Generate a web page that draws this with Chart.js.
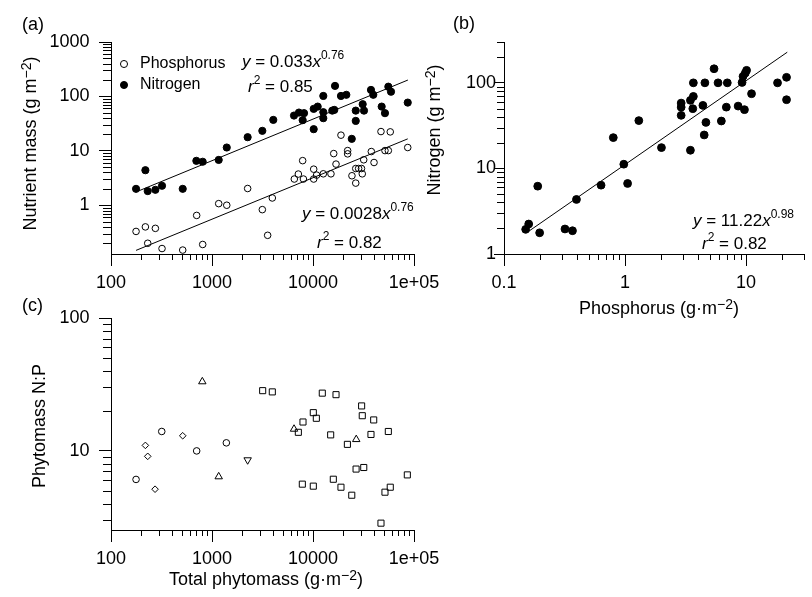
<!DOCTYPE html>
<html>
<head>
<meta charset="utf-8">
<script src="https://cdn.jsdelivr.net/npm/chart.js@4.4.1/dist/chart.umd.min.js"></script>
<style>
html,body{margin:0;padding:0;background:#fff;overflow:hidden;}
#wrap{position:relative;width:812px;height:597px;font-family:"Liberation Sans",Arial,Helvetica,sans-serif;color:#000;}
canvas{position:absolute;left:0;top:0;}
.lbl{position:absolute;white-space:nowrap;font-size:18px;line-height:20px;}
.eq{position:absolute;white-space:nowrap;font-size:17px;line-height:20px;}
.eq sup{font-size:12px;vertical-align:0;position:relative;top:-8px;}
</style>
</head>
<body>
<div id="wrap">
  <canvas id="chartA" width="812" height="597"></canvas>
  <canvas id="chartB" width="812" height="597"></canvas>
  <canvas id="chartC" width="812" height="597"></canvas>
  <div class="lbl" style="left:22px;top:14px">(a)</div>
  <div class="lbl" style="left:453px;top:13px">(b)</div>
  <div class="lbl" style="left:22px;top:295px">(c)</div>
  <div class="eq" style="left:242px;top:52px"><i>y</i> = 0.033<i>x</i><sup>0.76</sup></div>
  <div class="eq" style="left:248px;top:77px"><i>r</i><sup>2</sup> = 0.85</div>
  <div class="eq" style="left:302px;top:204px"><i>y</i> = 0.0028<i>x</i><sup>0.76</sup></div>
  <div class="eq" style="left:317px;top:233px"><i>r</i><sup>2</sup> = 0.82</div>
  <div class="eq" style="left:693px;top:211px"><i>y</i> = 11.22<i>x</i><sup>0.98</sup></div>
  <div class="eq" style="left:702px;top:234px"><i>r</i><sup>2</sup> = 0.82</div>
</div>
<script>
// ---------------- DATA ----------------
// Panel (a): nutrient mass vs total phytomass
const aNitrogenX = [177,219,231,275,320,513,700,809,1165,1400,2254,3150,4045,6486,7260,8150,7900,10160,11130,12650,12650,10160,12650,16520,15520,16250,18920,21380,26500,26500,24200,31040,31980,37500,39540,47860,51600,55700,59200,86700];
const aNitrogenY = [2.0,4.4,1.82,1.92,2.28,2.0,6.55,6.3,6.8,11.5,17.8,23.3,37,44.5,50.5,49.2,36.6,59,65,51.3,39.8,25,102,156,54.8,56.5,102,107,54.8,35.5,16.6,71.9,54.8,131.6,107,65,49.2,151,122,77];
const aPhosX = [177,219,275,231,320,513,705,809,1165,1400,2254,3150,3556,3955,7900,7160,6530,8040,10160,10160,10860,12650,15060,16900,16040,18920,22030,22030,24300,26500,26500,28300,30200,30750,31770,37800,40200,47100,58200,51600,55700,86700];
const aPhosY = [0.33,0.40,0.376,0.20,0.16,0.15,0.65,0.19,1.07,1.0,2.03,0.83,0.28,1.36,6.6,3.74,3.03,3.03,4.6,3.03,3.58,3.78,3.78,5.7,8.9,19.4,10.1,8.8,3.48,2.55,4.73,4.73,4.73,3.78,6.84,9.7,6.1,22.6,22.3,10.1,10.1,11.5];
const aNitrogenFitX = [190, 87000];
const aNitrogenFitY = [1.85, 200];
const aPhosFitX = [177, 86700];
const aPhosFitY = [0.148, 16.6];

// Panel (b): nitrogen vs phosphorus
const bPhos = [0.151,0.160,0.197,0.19,0.319,0.368,0.397,0.634,0.80,0.977,1.05,1.30,2.0,3.47,2.91,2.91,2.91,3.47,3.67,3.63,3.67,4.4,4.57,4.66,4.51,5.44,5.87,6.87,6.25,7.0,8.6,9.7,9.27,9.44,9.85,10.1,11.1,18.2,21.6,21.6];
const bNit  = [1.94,2.24,1.77,6.2,1.96,1.87,4.34,6.37,22.9,11.2,6.67,36.2,17.5,16.3,58,52,41.7,62.4,69.4,49.9,100,54.5,100,34.5,24.6,146,100,52,35.8,100,53.5,48.6,101,119,130,140,74.6,100,116,63.5];
const bFitX = [0.158, 21.9];
const bFitY = [1.82, 228];

// Panel (c): N:P ratio vs total phytomass, grouped by marker
const cCircleX = [177,318,705,1387];
const cCircleY = [6.1,14.0,10.0,11.5];
const cDiamondX = [219,231,273,513];
const cDiamondY = [11.0,9.1,5.15,13.0];
const cTriUpX = [802,1165,6490,26800];
const cTriUpY = [33.2,6.4,14.6,12.2];
const cTriDownX = [2254];
const cTriDownY = [8.55];
const cSquareX = [3175,3955,12360,16900,30300,30750,39900,10070,10790,7960,7160,14960,21900,37500,55700,26700,31800,85900,7840,10070,15890,18920,24200,51600,58200,47100];
const cSquareY = [28.4,27.8,27.2,26.5,21.8,18.4,17.1,19.4,17.6,16.5,13.8,13.2,11.2,13.3,14.0,7.3,7.5,6.6,5.62,5.43,6.12,5.33,4.64,4.89,5.33,2.86];

// Axis titles (text, superscript, closing part)
const MINUS = '\u2212';
const titleA_y = [{t: 'Nutrient mass (g m'}, {t: MINUS + '2', sup: true}, {t: ')'}];
const titleB_x = [{t: 'Phosphorus (g\u00B7m'}, {t: MINUS + '2', sup: true}, {t: ')'}];
const titleB_y = [{t: 'Nitrogen (g m'}, {t: MINUS + '2', sup: true}, {t: ')'}];
const titleC_x = [{t: 'Total phytomass (g\u00B7m'}, {t: MINUS + '2', sup: true}, {t: ')'}];
const titleC_y = [{t: 'Phytomass N:P'}];

// ---------------- HELPERS ----------------
const FONT = '"Liberation Sans", Arial, Helvetica, sans-serif';
Chart.defaults.font.family = FONT;
Chart.defaults.color = '#000';

const pts = (xs, ys) => xs.map((x, i) => ({x, y: ys[i]}));
function isDecade(v){ const l = Math.log10(v); return Math.abs(l - Math.round(l)) < 1e-6; }
function fmtTick(v){
  if (!isDecade(v)) return '';
  if (v >= 1e5) return '1e+0' + Math.round(Math.log10(v));
  return String(parseFloat(Number(v).toPrecision(6)));
}
function logTickValues(min, max){
  const out = [];
  for (let e = Math.floor(Math.log10(min)); e <= Math.ceil(Math.log10(max)); e++) {
    for (let m = 1; m <= 9; m++) {
      const v = parseFloat((m * Math.pow(10, e)).toPrecision(10));
      if (v >= min * (1 - 1e-9) && v <= max * (1 + 1e-9)) out.push(v);
    }
  }
  return out;
}
function logScale(c){
  const isX = c.axis === 'x';
  return {
    type: 'logarithmic',
    position: isX ? 'bottom' : 'left',
    min: c.min, max: c.max,
    afterBuildTicks: s => { s.ticks = logTickValues(c.min, c.max).map(v => ({value: v})); },
    afterFit: s => { if (isX) s.height = c.size; else s.width = c.size; },
    ticks: {autoSkip: false, maxRotation: 0, minRotation: 0, padding: c.tickPad,
      font: {size: 18, lineHeight: 1}, color: '#000', callback: v => fmtTick(v)},
    grid: {display: true, drawOnChartArea: false, drawTicks: true, tickLength: c.tickLen, tickWidth: 1,
      tickColor: ctx => (ctx.tick && isDecade(ctx.tick.value)) ? '#000' : 'rgba(0,0,0,0)'},
    border: {display: true, color: '#000', width: 1},
    title: {display: false}
  };
}
// short minor tick marks on log axes
const minorTicks = {
  id: 'minorTicks',
  afterDraw(chart, args, opts) {
    const ctx = chart.ctx;
    ctx.save(); ctx.strokeStyle = '#000'; ctx.lineWidth = 1;
    ['x','y'].forEach(id => {
      const s = chart.scales[id];
      s.ticks.forEach(t => {
        if (isDecade(t.value)) return;
        const p = Math.round(s.getPixelForValue(t.value)) + 0.5;
        ctx.beginPath();
        if (id === 'x') { ctx.moveTo(p, s.top); ctx.lineTo(p, s.top + opts.x); }
        else { ctx.moveTo(s.right, p); ctx.lineTo(s.right - opts.y, p); }
        ctx.stroke();
      });
    });
    ctx.restore();
  }
};
// axis titles with superscripts
const axisTitles = {
  id: 'axisTitles',
  afterDraw(chart, args, opts) {
    const ctx = chart.ctx;
    (opts.items || []).forEach(it => {
      ctx.save();
      const mainF = '18px ' + FONT, supF = '14px ' + FONT;
      let w = 0;
      const widths = it.parts.map(p => { ctx.font = p.sup ? supF : mainF; const m = ctx.measureText(p.t).width; w += m; return m; });
      ctx.translate(it.x, it.y);
      if (it.rotate) ctx.rotate(-Math.PI / 2);
      ctx.textAlign = 'left'; ctx.textBaseline = 'alphabetic'; ctx.fillStyle = '#000';
      let x = -w / 2;
      it.parts.forEach((p, i) => {
        ctx.font = p.sup ? supF : mainF;
        ctx.fillText(p.t, x, p.sup ? -5 : 0);
        x += widths[i];
      });
      ctx.restore();
    });
  }
};
function fitLine(xs, ys){
  return {data: pts(xs, ys), showLine: true, pointRadius: 0, borderColor: '#000', borderWidth: 1, fill: false, order: 2};
}
function makeChart(id, datasets, xs, ys, area, legend, minor, titles){
  return new Chart(document.getElementById(id), {
    type: 'scatter',
    data: {datasets},
    options: {
      responsive: false, animation: false, events: [],
      layout: {padding: {left: area.left - ys.size, right: 812 - area.right, top: area.top, bottom: 597 - area.bottom - xs.size}},
      scales: {x: logScale(xs), y: logScale(ys)},
      plugins: {legend: legend || {display: false}, tooltip: {enabled: false}, minorTicks: minor, axisTitles: {items: titles}}
    },
    plugins: [minorTicks, axisTitles]
  });
}

// ---------------- PANEL (a) ----------------
makeChart('chartA', [
  {label: 'Phosphorus', data: pts(aPhosX, aPhosY), pointStyle: 'circle', pointRadius: 3.3, borderWidth: 1, borderColor: '#000', backgroundColor: 'rgba(0,0,0,0)', order: 1},
  {label: 'Nitrogen', data: pts(aNitrogenX, aNitrogenY), pointStyle: 'circle', pointRadius: 3.6, borderWidth: 1, borderColor: '#000', backgroundColor: '#000', order: 1},
  fitLine(aNitrogenFitX, aNitrogenFitY),
  fitLine(aPhosFitX, aPhosFitY)
],
  {axis: 'x', min: 100, max: 1e5, size: 40, tickPad: 8.2, tickLen: 12},
  {axis: 'y', min: 0.127, max: 1000, size: 100, tickPad: 9.5, tickLen: 12},
  {left: 111, right: 414, top: 42, bottom: 254},
  {display: true, position: 'chartArea', align: 'start',
   title: {display: true, text: ' ', font: {size: 1, lineHeight: 1}, padding: {top: 50, bottom: 0}},
   labels: {usePointStyle: true, boxWidth: 16, boxHeight: 5, padding: 5, font: {size: 16}, color: '#000', filter: item => !!item.text}},
  {x: 6, y: 8},
  [{parts: titleA_y, x: 35.6, y: 143.5, rotate: true}]
);

// ---------------- PANEL (b) ----------------
makeChart('chartB', [
  {label: 'Nitrogen vs phosphorus', data: pts(bPhos, bNit), pointStyle: 'circle', pointRadius: 3.9, borderWidth: 1, borderColor: '#000', backgroundColor: '#000', order: 1},
  fitLine(bFitX, bFitY)
],
  {axis: 'x', min: 0.1, max: 30, size: 62.7, tickPad: 8.2, tickLen: 12},
  {axis: 'y', min: 1, max: 300, size: 100, tickPad: -2, tickLen: 10},
  {left: 504, right: 807, top: 42, bottom: 254},
  null,
  {x: 6, y: 7},
  [{parts: titleB_x, x: 659, y: 314}, {parts: titleB_y, x: 440, y: 130, rotate: true}]
);

// ---------------- PANEL (c) ----------------
const open = {borderWidth: 1, borderColor: '#000', backgroundColor: 'rgba(0,0,0,0)', order: 1};
makeChart('chartC', [
  Object.assign({label: 'Circle group', data: pts(cCircleX, cCircleY), pointStyle: 'circle', pointRadius: 3.3}, open),
  Object.assign({label: 'Diamond group', data: pts(cDiamondX, cDiamondY), pointStyle: 'rectRot', pointRadius: 3.3}, open),
  Object.assign({label: 'Triangle group', data: pts(cTriUpX, cTriUpY), pointStyle: 'triangle', pointRadius: 4.3}, open),
  Object.assign({label: 'Inverted triangle group', data: pts(cTriDownX, cTriDownY), pointStyle: 'triangle', pointRotation: 180, pointRadius: 4.3}, open),
  Object.assign({label: 'Square group', data: pts(cSquareX, cSquareY), pointStyle: 'rect', pointRadius: 4.3}, open)
],
  {axis: 'x', min: 100, max: 1e5, size: 63.2, tickPad: 8.2, tickLen: 12},
  {axis: 'y', min: 2.54, max: 100, size: 100, tickPad: 9.5, tickLen: 12},
  {left: 111, right: 414, top: 318, bottom: 530},
  null,
  {x: 6, y: 8},
  [{parts: titleC_x, x: 266, y: 584.5}, {parts: titleC_y, x: 45, y: 426, rotate: true}]
);
</script>
</body>
</html>
